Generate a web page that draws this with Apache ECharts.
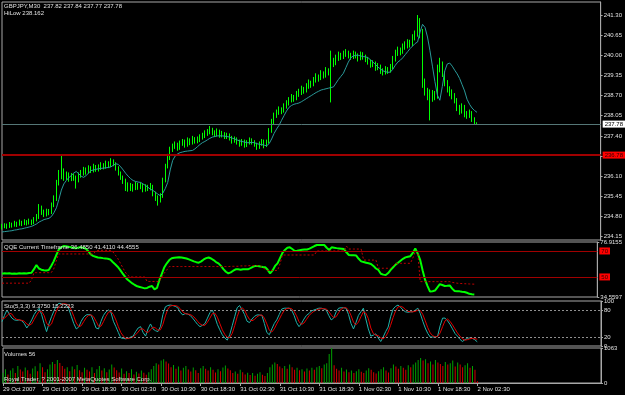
<!DOCTYPE html>
<html><head><meta charset="utf-8">
<script src="https://cdn.jsdelivr.net/npm/echarts@6/dist/echarts.min.js"></script>
<style>html,body{margin:0;padding:0;background:#000}#c{width:625px;height:395px}</style>
</head><body><div id="c"></div>
<script>
const tickLabels = ['29 Oct 2007','29 Oct 10:30','29 Oct 18:30','30 Oct 02:30','30 Oct 10:30','30 Oct 18:30','31 Oct 02:30','31 Oct 10:30','31 Oct 18:30','1 Nov 02:30','1 Nov 10:30','1 Nov 18:30','2 Nov 02:30'];
const barsPerLabel = 16;
const slotCount = 243;
const priceTicks = [234.15,234.80,235.45,236.10,236.75,237.40,238.05,238.70,239.35,240.00,240.65,241.30];
const qqeTicks = [34.5597, 76.9155];
const stoTicks = [0, 20, 80, 100];
const volTicks = [0, 1063];
const bidPrice = 237.78;
const hLinePrice = 236.78;
const qqeLevels = [70, 50];
const stoLevels = [80, 20];

const opens = [
234.45,234.48,234.52,234.46,234.55,234.50,234.58,234.53,234.60,234.56,
234.62,234.58,234.64,234.60,234.70,234.78,235.05,234.98,234.88,234.95,
234.92,235.15,235.35,235.85,236.10,236.25,236.05,236.15,236.00,236.10,
236.05,235.95,236.12,236.20,236.30,236.25,236.35,236.28,236.40,236.32,
236.38,236.45,236.40,236.50,236.45,236.58,236.50,236.35,236.20,236.05,
235.95,235.85,235.70,235.78,235.72,235.82,235.75,235.80,235.68,235.75,
235.70,235.78,235.55,235.40,235.30,235.45,235.95,236.40,236.70,236.95,
237.05,237.10,237.00,237.15,237.20,237.10,237.25,237.18,237.30,237.22,
237.28,237.35,237.40,237.48,237.52,237.60,237.50,237.45,237.55,237.42,
237.48,237.38,237.42,237.35,237.25,237.30,237.20,237.15,237.22,237.10,
237.18,237.25,237.20,237.12,237.05,237.15,237.22,237.10,237.20,237.55,
237.85,238.05,238.15,238.25,238.20,238.35,238.45,238.55,238.65,238.60,
238.75,238.80,238.90,238.85,239.00,239.10,239.05,239.20,239.30,239.25,
239.40,239.35,239.50,239.45,239.80,239.75,239.90,240.00,239.95,240.05,
240.10,240.00,239.95,240.05,240.00,239.90,240.02,239.95,239.88,239.80,
239.70,239.75,239.60,239.65,239.50,239.45,239.55,239.50,239.60,239.85,
240.05,240.15,240.10,240.25,240.30,240.40,240.35,240.55,240.65,240.95,
240.80,239.10,238.85,238.70,238.60,238.75,238.65,239.55,239.75,239.40,
239.10,238.90,238.80,238.70,238.55,238.30,238.20,238.35,238.10,238.05,
238.15,237.95,237.82];
const closes = [
234.48,234.52,234.46,234.55,234.50,234.58,234.53,234.60,234.56,234.62,
234.58,234.64,234.60,234.70,234.78,235.05,234.98,234.88,234.95,234.92,
235.15,235.35,235.85,236.10,236.25,236.05,236.15,236.00,236.10,236.05,
235.95,236.12,236.20,236.30,236.25,236.35,236.28,236.40,236.32,236.38,
236.45,236.40,236.50,236.45,236.58,236.50,236.35,236.20,236.05,235.95,
235.85,235.70,235.78,235.72,235.82,235.75,235.80,235.68,235.75,235.70,
235.78,235.55,235.40,235.30,235.45,235.95,236.40,236.70,236.95,237.05,
237.10,237.00,237.15,237.20,237.10,237.25,237.18,237.30,237.22,237.28,
237.35,237.40,237.48,237.52,237.60,237.50,237.45,237.55,237.42,237.48,
237.38,237.42,237.35,237.25,237.30,237.20,237.15,237.22,237.10,237.18,
237.25,237.20,237.12,237.05,237.15,237.22,237.10,237.20,237.55,237.85,
238.05,238.15,238.25,238.20,238.35,238.45,238.55,238.65,238.60,238.75,
238.80,238.90,238.85,239.00,239.10,239.05,239.20,239.30,239.25,239.40,
239.35,239.50,239.45,239.80,239.75,239.90,240.00,239.95,240.05,240.10,
240.00,239.95,240.05,240.00,239.90,240.02,239.95,239.88,239.80,239.70,
239.75,239.60,239.65,239.50,239.45,239.55,239.50,239.60,239.85,240.05,
240.15,240.10,240.25,240.30,240.40,240.35,240.55,240.65,240.95,240.80,
239.10,238.85,238.70,238.60,238.75,238.65,239.55,239.75,239.40,239.10,
238.90,238.80,238.70,238.55,238.30,238.20,238.35,238.10,238.05,238.15,
237.95,237.84,237.78];
const highs = [
234.56,234.58,234.57,234.62,234.60,234.66,234.63,234.70,234.66,234.71,
234.68,234.73,234.70,234.78,234.88,235.20,235.15,235.02,235.05,235.04,
235.25,235.48,235.98,236.30,236.78,236.35,236.25,236.22,236.20,236.18,
236.12,236.22,236.30,236.40,236.38,236.45,236.42,236.50,236.46,236.48,
236.55,236.52,236.60,236.58,236.68,236.64,236.55,236.42,236.25,236.12,
236.02,235.90,235.88,235.85,235.92,235.88,235.90,235.85,235.84,235.82,
235.88,235.82,235.60,235.48,235.55,236.05,236.50,236.82,237.05,237.15,
237.22,237.18,237.25,237.30,237.28,237.35,237.32,237.40,237.36,237.38,
237.45,237.50,237.58,237.62,237.72,237.66,237.58,237.64,237.60,237.56,
237.52,237.50,237.48,237.40,237.38,237.35,237.28,237.30,237.28,237.26,
237.35,237.32,237.26,237.18,237.22,237.30,237.28,237.28,237.65,237.95,
238.15,238.25,238.35,238.32,238.45,238.55,238.65,238.75,238.72,238.85,
238.92,239.02,238.98,239.10,239.22,239.18,239.30,239.42,239.38,239.52,
239.48,239.62,239.58,240.15,239.92,240.02,240.12,240.08,240.15,240.20,
240.15,240.08,240.15,240.12,240.06,240.12,240.10,240.02,239.95,239.86,
239.84,239.80,239.75,239.70,239.58,239.65,239.62,239.72,239.98,240.18,
240.28,240.25,240.38,240.45,240.52,240.50,240.68,240.80,241.30,241.20,
240.85,239.25,238.95,238.90,238.88,238.85,239.70,239.92,239.80,239.48,
239.20,239.00,238.90,238.78,238.62,238.40,238.45,238.40,238.20,238.25,
238.20,238.00,237.84];
const lows = [
234.38,234.42,234.40,234.43,234.44,234.47,234.46,234.50,234.49,234.52,
234.51,234.54,234.52,234.55,234.64,234.72,234.85,234.78,234.80,234.84,
234.88,235.10,235.30,235.80,236.00,235.95,235.98,235.92,235.94,235.95,
235.70,235.90,236.05,236.12,236.15,236.18,236.20,236.22,236.24,236.25,
236.30,236.32,236.34,236.36,236.40,236.42,236.28,236.12,235.98,235.85,
235.62,235.60,235.62,235.60,235.65,235.66,235.68,235.58,235.60,235.62,
235.64,235.45,235.30,235.15,235.25,235.40,235.90,236.35,236.62,236.88,
236.98,236.92,236.95,237.08,237.02,237.05,237.10,237.12,237.15,237.16,
237.20,237.28,237.33,237.40,237.45,237.42,237.36,237.38,237.34,237.35,
237.30,237.30,237.25,237.15,237.18,237.12,237.05,237.08,237.02,237.04,
237.12,237.12,237.05,236.95,236.98,237.08,237.00,237.04,237.15,237.50,
237.78,237.98,238.08,238.10,238.15,238.28,238.38,238.48,238.50,238.55,
238.66,238.72,238.76,238.80,238.92,238.95,239.00,239.12,239.15,239.20,
239.25,239.28,239.35,238.48,239.62,239.68,239.82,239.85,239.88,239.95,
239.90,239.85,239.88,239.90,239.80,239.84,239.86,239.78,239.70,239.60,
239.62,239.50,239.52,239.40,239.35,239.38,239.40,239.44,239.55,239.80,
239.98,240.00,240.05,240.18,240.22,240.25,240.30,240.48,240.60,240.55,
238.95,238.70,238.55,237.90,238.50,238.55,238.60,239.45,239.30,239.00,
238.80,238.68,238.58,238.45,238.20,238.08,238.12,238.00,237.95,237.98,
237.85,237.76,237.77];
const hiLow = [
234.30,234.31,234.32,234.33,234.34,234.36,234.37,234.39,234.40,234.42,
234.44,234.46,234.48,234.52,234.56,234.62,234.66,234.70,234.72,234.74,
234.80,234.92,235.08,235.35,235.65,235.85,235.96,236.05,236.12,236.20,
236.25,236.18,236.10,236.06,236.12,236.20,236.28,236.30,236.32,236.34,
236.35,236.36,236.37,236.38,236.40,236.45,236.50,236.48,236.40,236.30,
236.19,236.10,236.02,235.96,235.93,235.91,235.90,235.85,235.80,235.74,
235.68,235.64,235.58,235.52,235.47,235.55,235.70,235.90,236.30,236.61,
236.75,236.82,236.86,236.88,236.90,236.91,236.92,236.93,236.98,237.05,
237.12,237.18,237.22,237.27,237.32,237.36,237.38,237.40,237.40,237.40,
237.39,237.38,237.36,237.33,237.30,237.27,237.24,237.22,237.20,237.18,
237.18,237.19,237.18,237.15,237.13,237.12,237.10,237.08,237.15,237.30,
237.48,237.62,237.74,237.90,238.05,238.20,238.32,238.38,238.42,238.44,
238.46,238.50,238.55,238.60,238.65,238.70,238.75,238.80,238.84,238.88,
238.90,238.92,238.94,238.96,238.98,239.10,239.22,239.32,239.42,239.60,
239.78,239.92,239.98,240.00,240.00,239.98,239.96,239.95,239.92,239.85,
239.78,239.70,239.62,239.56,239.50,239.47,239.45,239.46,239.55,239.68,
239.78,239.84,239.92,240.02,240.12,240.22,240.30,240.38,240.43,240.75,
241.00,240.90,240.59,240.15,239.65,239.15,238.72,238.55,239.00,239.50,
239.72,239.75,239.65,239.52,239.40,239.25,239.05,238.85,238.58,238.42,
238.30,238.22,238.16];
const qqeMain = [
52.5,52.8,52.6,52.9,52.5,52.7,52.4,52.8,52.6,52.9,
52.7,53.0,53.2,56.0,59.2,56.5,55.6,55.2,55.0,55.3,
58.5,62.0,66.5,70.8,72.8,73.8,73.6,73.2,72.8,72.5,
72.0,72.6,72.9,72.5,71.8,70.0,67.5,66.2,65.6,65.0,
64.8,64.5,64.3,64.0,63.5,61.5,59.8,57.9,55.5,52.8,
50.2,48.0,46.5,45.0,43.8,42.8,42.3,41.8,41.2,41.5,
42.5,43.0,40.5,41.5,47.7,52.5,57.5,60.5,63.0,64.4,
64.8,65.0,65.2,65.0,64.6,64.2,63.5,62.8,62.0,61.4,
61.0,62.0,63.5,64.5,65.0,64.2,63.0,61.5,60.5,58.5,
56.0,54.0,52.8,53.5,54.8,55.9,55.9,55.6,56.0,55.9,
55.9,56.8,57.8,58.5,58.5,58.0,57.7,57.5,55.5,52.8,
55.0,58.5,60.5,64.5,68.5,70.8,72.5,72.8,71.5,70.0,
70.2,70.6,70.9,71.1,71.2,71.8,72.8,73.8,74.6,74.7,
74.6,74.6,72.5,70.8,72.8,72.5,72.2,72.0,71.8,71.5,
69.0,66.9,66.8,66.7,66.5,64.0,62.0,61.5,61.0,60.5,
60.0,58.5,56.5,55.4,52.5,51.8,51.5,53.0,55.4,57.5,
59.5,61.0,62.5,64.0,65.1,65.6,66.0,68.5,72.0,68.0,
63.1,55.0,47.7,43.0,38.7,39.0,39.5,42.0,44.4,43.8,
43.0,43.2,43.5,41.0,39.2,39.0,38.9,38.6,38.4,37.8,
37.0,36.6,36.485];
const qqeTrail = [
45.2,45.2,45.2,45.2,45.2,45.2,45.2,45.2,45.2,45.2,
45.2,45.2,47.7,53.3,53.3,53.3,53.3,53.3,53.3,53.3,
53.3,56.0,62.0,67.7,67.7,67.7,67.7,67.7,67.7,67.7,
67.7,67.7,67.7,67.7,67.7,67.7,67.7,67.7,69.5,70.5,
70.5,70.5,70.5,70.5,70.5,69.5,67.0,64.5,61.0,57.5,
54.0,51.5,50.2,50.0,50.0,50.0,50.0,50.0,50.0,46.5,
46.5,46.5,46.5,46.5,46.5,50.0,53.0,55.4,58.0,58.0,
58.0,58.0,58.0,58.0,58.0,58.0,58.0,58.0,58.0,58.0,
58.0,58.0,58.0,58.0,58.0,58.0,58.0,58.0,58.0,58.0,
58.0,58.0,58.0,58.2,58.2,58.2,58.2,58.5,58.5,58.5,
58.7,58.7,58.7,58.7,58.7,58.7,57.0,56.0,55.0,55.0,
55.0,55.0,55.0,60.0,66.9,66.9,66.9,66.9,66.9,66.9,
66.9,66.9,66.9,66.9,66.9,66.9,66.9,66.9,70.0,70.0,
70.0,70.0,70.0,70.0,70.0,70.0,70.0,70.0,70.0,70.0,
73.8,71.5,71.5,71.5,71.5,71.5,71.5,63.0,63.0,63.0,
63.0,63.0,63.0,56.7,56.7,56.7,56.7,56.7,56.7,58.5,
60.5,60.5,60.5,60.5,60.5,60.5,60.5,64.5,69.5,69.5,
46.4,46.4,46.4,46.4,46.4,46.4,46.4,46.4,46.4,46.4,
46.4,46.4,46.4,45.8,45.5,45.2,45.0,44.9,44.8,44.7,
44.6,44.5,44.4555];
const stoMain = [
54,68,80,70,62,58,57,58,56,50,
40,48,58,70,78,84,70,50,32,50,
65,78,90,95,94,93,91,82,66,50,
38,42,55,64,69,70,69,55,40,38,
55,68,76,80,75,55,43,30,18,17,
16,17,20,22,32,40,43,30,22,38,
49,38,34,32,43,70,87,90,91,90,
88,85,75,69,72,71,68,62,55,48,
43,46,50,62,74,80,65,48,36,25,
18,13,25,45,65,85,90,80,70,55,
52,60,66,69,69,68,50,30,25,38,
50,58,70,82,84,84,84,80,68,52,
43,50,60,68,72,78,80,82,84,84,
82,80,68,58,62,76,84,85,85,84,
70,50,38,52,68,76,84,60,38,22,
24,27,18,10,20,32,42,65,82,88,
91,86,80,76,75,76,76,80,84,72,
55,40,28,20,20,20,22,45,62,62,
56,48,38,28,22,15,10,14,17,18,
17,14,9.375];
const stoSignal = [
60,62,67,73,71,63,59,58,57,55,
49,46,49,59,69,77,77,68,51,44,
49,64,78,88,93,94,93,89,80,66,
51,43,45,54,63,68,69,65,55,44,
44,54,66,75,77,70,58,43,30,22,
17,17,18,20,25,31,38,38,32,30,
36,42,40,35,36,48,67,82,89,90,
90,88,83,76,72,71,70,67,62,55,
49,46,46,53,62,72,73,64,50,36,
26,19,19,28,45,65,80,85,80,68,
59,56,59,65,68,69,62,49,35,31,
38,49,59,70,79,83,84,83,77,67,
54,48,51,59,67,73,77,80,82,83,
83,82,77,69,63,65,74,82,85,85,
80,68,53,47,53,65,76,73,61,40,
28,24,23,18,16,21,31,46,63,78,
87,88,86,81,77,76,76,77,80,79,
70,56,41,29,23,20,21,29,43,56,
60,55,47,38,29,22,16,13,14,16,
17,16,15.2223];
const volumes = [
310,420,260,380,450,300,520,410,350,470,390,280,440,510,360,600,480,330,420,560,
640,580,700,610,520,430,480,360,500,420,550,390,330,460,400,350,480,300,420,520,
380,450,330,410,560,470,390,320,440,280,360,300,420,260,340,290,380,310,250,330,
420,520,600,560,680,720,650,590,480,550,430,500,380,460,520,410,350,470,390,300,
450,520,430,380,480,400,320,420,360,470,530,440,390,300,350,280,400,330,260,310,
240,300,220,280,330,250,210,300,480,560,620,580,500,450,520,430,560,480,400,460,
390,420,350,440,380,460,400,480,520,450,560,600,880,1063,540,430,380,460,350,410,
330,380,300,360,420,340,300,380,450,400,330,290,360,420,480,380,320,450,560,500,
430,520,460,400,540,480,560,620,700,760,680,720,600,650,560,700,620,580,520,640,
560,600,680,500,620,560,480,540,600,460,520,400,56];

const FONT = 'Liberation Sans';
const TXT = '#e0e0e0';
const FRAME = '#a8a8a8';
const cats = Array.from({length: slotCount}, (_, i) => String(i));
const candle = opens.map((o, i) => [o, closes[i], lows[i], highs[i]]);
const volData = volumes.map((v, i) => ({
  value: v,
  itemStyle: {color: (i === 0 || v > volumes[i - 1]) ? '#00a000' : '#d40000'}
}));
const isLabelSlot = (idx) => idx % barsPerLabel === 0 && idx / barsPerLabel < tickLabels.length;

const gridDefs = [
  {top: 2, height: 238},
  {top: 242, height: 55},
  {top: 301, height: 45},
  {top: 348, height: 35}
];
const grid = gridDefs.map(g => ({left: 2, right: 24, top: g.top, height: g.height,
  show: true, borderColor: FRAME, borderWidth: 1, backgroundColor: '#000'}));

const xAxis = gridDefs.map((g, k) => {
  const bottom = k === 3;
  return {
    type: 'category', gridIndex: k, data: cats, boundaryGap: false,
    axisLine: {show: bottom, lineStyle: {color: FRAME}},
    axisTick: {show: bottom, interval: (i) => isLabelSlot(i), length: 3, lineStyle: {color: FRAME}},
    axisLabel: {show: bottom, interval: (i) => isLabelSlot(i), align: 'left', margin: 3,
      fontSize: 6, fontFamily: FONT, color: TXT,
      formatter: (v) => tickLabels[Number(v) / barsPerLabel] || ''},
    splitLine: {show: false}
  };
});

function yAx(k, min, max, ticks, fmt) {
  return {
    type: 'value', gridIndex: k, position: 'right', min: min, max: max, scale: true,
    axisLine: {show: true, lineStyle: {color: FRAME}},
    axisTick: {show: true, length: 2, customValues: ticks, lineStyle: {color: FRAME}},
    axisLabel: {show: true, customValues: ticks, margin: 3, fontSize: 6, fontFamily: FONT, color: TXT, formatter: fmt},
    splitLine: {show: false}
  };
}
const yAxis = [
  yAx(0, 234.04, 241.72, priceTicks, v => v.toFixed(2)),
  yAx(1, 34.5597, 76.9155, qqeTicks, v => v.toFixed(4)),
  yAx(2, 0, 100, stoTicks, v => String(Math.round(v))),
  yAx(3, 0, 1063, volTicks, v => String(Math.round(v)))
];

function boxLabel(text, bg, fg) {
  return {show: true, position: 'end', formatter: text, distance: 2, backgroundColor: bg, color: fg,
    fontSize: 6, fontFamily: FONT, padding: [1, 2, 0, 2]};
}

const series = [
  {type: 'candlestick', xAxisIndex: 0, yAxisIndex: 0, data: candle, barWidth: 1,
    itemStyle: {color: '#00ff00', color0: '#00ff00', borderColor: '#00ff00', borderColor0: '#00ff00', borderWidth: 1},
    markLine: {silent: true, symbol: 'none', animation: false, data: [
      {yAxis: bidPrice, lineStyle: {color: '#557777', width: 1, type: 'solid'}, label: boxLabel(bidPrice.toFixed(2), '#ffffff', '#000000')},
      {yAxis: hLinePrice, lineStyle: {color: '#a00000', width: 2, type: 'solid'}, label: boxLabel(hLinePrice.toFixed(2), '#ff0000', '#300000')}
    ]}},
  {type: 'line', xAxisIndex: 0, yAxisIndex: 0, data: hiLow, symbol: 'none', lineStyle: {color: '#2a9a9a', width: 1}},
  {type: 'line', xAxisIndex: 1, yAxisIndex: 1, data: qqeMain, symbol: 'none', lineStyle: {color: '#00ff00', width: 2},
    markLine: {silent: true, symbol: 'none', animation: false, data: qqeLevels.map(l => (
      {yAxis: l, lineStyle: {color: '#a00000', width: 1, type: 'solid'}, label: boxLabel(String(l), '#ff0000', '#300000')}))}},
  {type: 'line', xAxisIndex: 1, yAxisIndex: 1, data: qqeTrail, symbol: 'none', lineStyle: {color: '#c00000', width: 1, type: [2, 2]}},
  {type: 'line', xAxisIndex: 2, yAxisIndex: 2, data: stoMain, symbol: 'none', lineStyle: {color: '#20b2aa', width: 1},
    markLine: {silent: true, symbol: 'none', animation: false, label: {show: false}, data: stoLevels.map(l => (
      {yAxis: l, lineStyle: {color: '#909090', width: 1, type: [2, 2]}}))}},
  {type: 'line', xAxisIndex: 2, yAxisIndex: 2, data: stoSignal, symbol: 'none', lineStyle: {color: '#e00000', width: 1}},
  {type: 'bar', xAxisIndex: 3, yAxisIndex: 3, data: volData, barWidth: 1}
];

function txt(x, y, s) {
  return {type: 'text', x: x, y: y, z: 100, silent: true,
    style: {text: s, fill: TXT, fontSize: 6, fontFamily: FONT, verticalAlign: 'middle', align: 'left'}};
}
const graphic = [
  txt(4, 6, 'GBPJPY,M30  237.82 237.84 237.77 237.78'),
  txt(4, 13, 'HiLow 238.162'),
  txt(4, 247, 'QQE Current Timeframe 36.4850 41.4110 44.4555'),
  txt(4, 306, 'Sto(5,3,3) 9.3750 15.2223'),
  txt(4, 354, 'Volumes 56'),
  txt(4, 379, 'Royal Trader, ? 2001-2007 MetaQuotes Software Corp.')
];

const chart = echarts.init(document.getElementById('c'), null, {renderer: 'canvas'});
chart.setOption({
  backgroundColor: '#000',
  animation: false,
  textStyle: {fontFamily: FONT},
  grid: grid, xAxis: xAxis, yAxis: yAxis, series: series, graphic: graphic
});
</script>
</body></html>
